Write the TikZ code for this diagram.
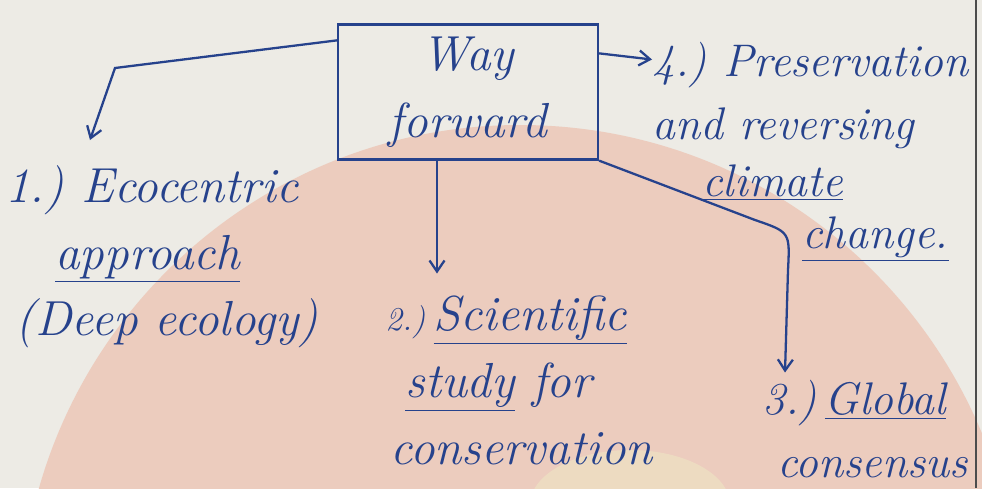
\documentclass[tikz,border=0pt]{standalone}
\usepackage{xcolor}
\usetikzlibrary{arrows.meta}
\definecolor{inkblue}{RGB}{38,66,140}
\definecolor{paper}{RGB}{237,235,229}
\definecolor{pinkwash}{RGB}{236,204,190}
\definecolor{yellowwash}{RGB}{238,230,196}

\begin{document}
\begin{tikzpicture}[x=0.02cm,y=-0.02cm,
  every node/.style={font=\fontsize{28}{38}\selectfont\itshape,text=inkblue},
  wfbox/.style={draw=inkblue,line width=1.3pt,minimum width=5.2cm,
                minimum height=2.7cm,align=center,inner sep=2pt},
  point/.style={anchor=north west,align=left,inner sep=0pt},
  edgepoint/.style={point,font=\fontsize{26}{36}\selectfont\itshape},
  link/.style={draw=inkblue,line width=1.3pt,-{Straight Barb[length=2.2mm,width=3mm]}}]
\useasboundingbox (0,0) rectangle (982,488);
% paper and the wash behind the notes
\begin{scope}
  \clip (0,0) rectangle (982,488);
  \fill[paper] (0,0) rectangle (982,488);
  \fill[pinkwash] (520,625) circle (500);
  \fill[yellowwash,opacity=0.6] (630,505) ellipse (100 and 55);
  \draw[black!70,line width=0.8pt] (976,0) -- (976,488);
\end{scope}
\node[wfbox] (way) at (468,92) {Way\\forward};
\node[point] (n1) at (5,165) {1.)\ Ecocentric\\
  \hspace*{1.0cm}\underline{approach}\\
  \hspace*{0.2cm}(Deep ecology)};
\node[point] (n2) at (385,296) {{\fontsize{19}{20}\selectfont 2.)}\,\underline{Scientific}\\
  \hspace*{0.4cm}\underline{study} for\\
  \hspace*{0.1cm}conservation};
\node[edgepoint] (n3) at (762,380) {3.)\,\underline{Global}\\
  \hspace*{0.3cm}consensus};
\node[edgepoint] (n4) at (652,42) {4.)\ Preservation\\
  and reversing\\[-4pt]
  \hspace*{1.0cm}\underline{climate}\\[-6pt]
  \hspace*{3.0cm}\underline{change.}};
\coordinate (bendl) at (115,68);
\coordinate (bendr) at (755,220);
\draw[link] ([yshift=-0.34cm]way.north west) -- (bendl) -- ([xshift=1.7cm,yshift=0.5cm]n1.north west);
\draw[link] (way.south -| 437,0) -- ([yshift=0.45cm]n2.north west -| 437,0);
\draw[link] (way.south east) -- (bendr) .. controls (790,232) .. (788,270) -- ([yshift=0.15cm]n3.north west -| 785,0);
\draw[link] ([yshift=-0.6cm]way.north east) -- ([yshift=-0.35cm]n4.north west);
\end{tikzpicture}
\end{document}
